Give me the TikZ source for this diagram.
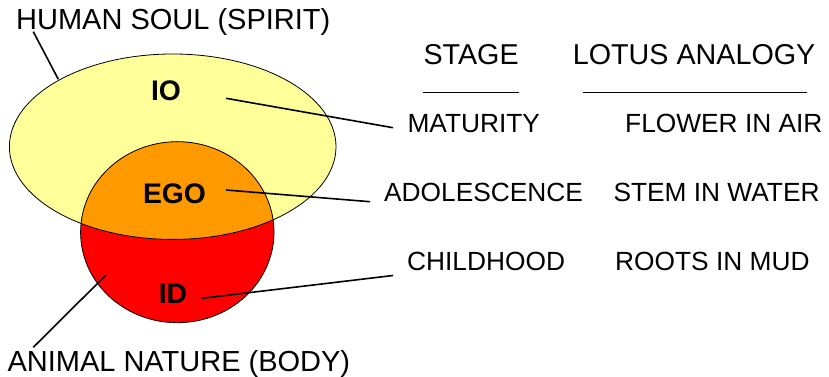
\documentclass[tikz,border=0pt]{standalone}
\usepackage{fontspec}
\setmainfont{Liberation Sans}
\definecolor{soulyellow}{HTML}{FFFF99}
\definecolor{egoorange}{HTML}{FF9900}
\definecolor{idred}{HTML}{FF0000}
\begin{document}
\begin{tikzpicture}
  [x=1pt,y=-1pt,
   side/.style={anchor=base west,inner sep=0pt,font=\fontsize{29}{34}\selectfont},
   head/.style={anchor=base west,inner sep=0pt,font=\fontsize{28.7}{34}\selectfont},
   entry/.style={anchor=base west,inner sep=0pt,font=\fontsize{26.3}{31}\selectfont},
   part/.style={anchor=base,inner sep=0pt,font=\bfseries\fontsize{28.3}{34}\selectfont},
   rim/.style={draw=black,line width=0.8pt},
   link/.style={line width=1.6pt}]
  \useasboundingbox (0,0) rectangle (829,377);

  % soul, ego and id
  \fill[soulyellow] (172.7,146.7) ellipse [x radius=163.3pt,y radius=92.7pt];
  \fill[idred] (177.3,232.2) ellipse [x radius=96.7pt,y radius=90.5pt];
  \begin{scope}
    \clip (172.7,146.7) ellipse [x radius=163.3pt,y radius=92.7pt];
    \fill[egoorange] (177.3,232.2) ellipse [x radius=96.7pt,y radius=90.5pt];
  \end{scope}
  \draw[rim] (172.7,146.7) ellipse [x radius=163.3pt,y radius=92.7pt];
  \draw[rim] (177.3,232.2) ellipse [x radius=96.7pt,y radius=90.5pt];

  \node[side] (soul) at (16,30) {HUMAN SOUL (SPIRIT)};
  \node[side] (body) at (7.3,371) {ANIMAL NATURE (BODY)};
  \node[part] (io) at (166,100.7) {IO};
  \node[part] (ego) at (174.5,203) {EGO};
  \node[part] (id) at (173,303.3) {ID};

  \node[head] (stage) at (423.3,65) {STAGE};
  \node[head] (lotus) at (572.7,65) {LOTUS ANALOGY};
  \node[entry] (mat) at (407.3,132.7) {MATURITY};
  \node[entry] (ado) at (384,201.7) {ADOLESCENCE};
  \node[entry] (child) at (407,270.7) {CHILDHOOD};
  \node[entry] (flower) at (625,132.7) {FLOWER IN AIR};
  \node[entry] (stem) at (613.3,201.7) {STEM IN WATER};
  \node[entry] (roots) at (615,270.7) {ROOTS IN MUD};

  \draw[line width=1.3pt] (422.7,92.7) -- (519,92.7);
  \draw[line width=1.3pt] (582.7,92.7) -- (807,92.7);

  \coordinate (ioIn) at (226,98.3);    \coordinate (ioOut) at (393,127.7);
  \coordinate (egoIn) at (226,190);    \coordinate (egoOut) at (370,201.7);
  \coordinate (idIn) at (201.7,298.3); \coordinate (idOut) at (393,275.5);
  \coordinate (soulIn) at (58.3,79.3); \coordinate (soulOut) at (33.3,31.7);
  \coordinate (bodyIn) at (106,275);   \coordinate (bodyOut) at (33.3,347.3);

  \foreach \from/\to in {ioIn/ioOut, egoIn/egoOut, idIn/idOut, soulOut/soulIn, bodyOut/bodyIn}
  \draw[link] (\from) -- (\to);
\end{tikzpicture}
\end{document}
